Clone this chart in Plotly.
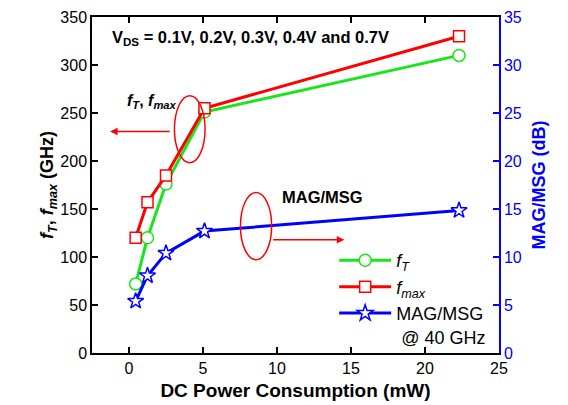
import plotly.graph_objects as go

# ---- data ----
power_mw = [0.45, 1.25, 2.5, 5.1, 22.3]
ft_ghz = [72, 120, 176, 251, 310]
fmax_ghz = [120, 157, 185, 255, 330]
mag_db = [5.4, 8.05, 10.4, 12.7, 14.85]

x_ticks = [0, 5, 10, 15, 20, 25]
y_ticks = [0, 50, 100, 150, 200, 250, 300, 350]
y2_ticks = [0, 5, 10, 15, 20, 25, 30, 35]

GREEN = "#19e619"
RED = "#ff0000"
BLUE = "#0000ff"
FONT = "Liberation Sans, Arial, sans-serif"

fig = go.Figure()
fig.add_trace(go.Scatter(
    x=power_mw, y=ft_ghz, mode="lines+markers",
    name="<i>f</i><sub><i>T</i></sub>",
    line=dict(color=GREEN, width=3),
    marker=dict(symbol="circle", size=12, color="white", line=dict(color=GREEN, width=1.5)),
))
fig.add_trace(go.Scatter(
    x=power_mw, y=fmax_ghz, mode="lines+markers",
    name="<i>f</i><sub><i>max</i></sub>",
    line=dict(color=RED, width=3),
    marker=dict(symbol="square", size=11, color="white", line=dict(color=RED, width=1.5)),
))
fig.add_trace(go.Scatter(
    x=power_mw, y=mag_db, mode="lines+markers", yaxis="y2",
    name="MAG/MSG<br>&nbsp;@ 40 GHz",
    line=dict(color=BLUE, width=3),
    marker=dict(symbol="star", size=12, color="white", line=dict(color=BLUE, width=1.5)),
))

axis_common = dict(showgrid=False, zeroline=False, ticks="inside", ticklen=6,
                   tickwidth=1.5, linewidth=1.5, showline=True, automargin=False)

fig.update_layout(
    width=568, height=405,
    margin=dict(l=92, r=69, t=17, b=52),
    paper_bgcolor="white", plot_bgcolor="white",
    font=dict(family=FONT, size=16, color="black"),
    xaxis=dict(range=[-2.5, 25], tickvals=x_ticks, linecolor="black", tickcolor="black",
               mirror="ticks",
               title=dict(text="<b>DC Power Consumption (mW)</b>", font=dict(size=19), standoff=8),
               **axis_common),
    yaxis=dict(range=[0, 350], tickvals=y_ticks, linecolor="black", tickcolor="black",
               title=dict(text="<b><i>f</i><sub><i>T</i></sub>, <i>f</i><sub><i>max</i></sub> (GHz)</b>",
                          font=dict(size=18), standoff=2),
               **axis_common),
    yaxis2=dict(range=[0, 35], tickvals=y2_ticks, overlaying="y", side="right",
                linecolor=BLUE, tickcolor=BLUE, tickfont=dict(color=BLUE),
                title=dict(text="<b>MAG/MSG (dB)</b>", font=dict(size=18, color=BLUE), standoff=12),
                **axis_common),
    showlegend=True,
    legend=dict(x=0.595, y=0.33, xanchor="left", yanchor="top",
                bgcolor="rgba(0,0,0,0)", font=dict(size=18),
                itemwidth=52, tracegroupgap=0, valign="top"),
)

# annotations (text, ellipses, arrows)
fig.add_annotation(x=-1.3, y=328.4, xref="x", yref="y", xanchor="left", showarrow=False,
                   text="<b>V<sub>DS</sub> = 0.1V, 0.2V, 0.3V, 0.4V and 0.7V</b>",
                   font=dict(size=16.5))
fig.add_annotation(x=-0.3, y=262, xref="x", yref="y", xanchor="left", showarrow=False,
                   text="<b><i>f</i><sub><i>T</i></sub>, <i>f</i><sub><i>max</i></sub></b>",
                   font=dict(size=16))
fig.add_annotation(x=13.06, y=162, xref="x", yref="y", showarrow=False,
                   text="<b>MAG/MSG</b>", font=dict(size=16.5))

fig.add_shape(type="circle", xref="x", yref="y", x0=3.07, x1=5.14, y0=198.2, y1=268,
              line=dict(color=RED, width=1.5))
fig.add_shape(type="circle", xref="x", yref="y", x0=7.53, x1=9.64, y0=97.2, y1=167.3,
              line=dict(color=RED, width=1.5))

fig.add_annotation(x=-1.28, y=230.8, ax=2.85, ay=230.8, xref="x", yref="y", axref="x", ayref="y",
                   text="", showarrow=True, arrowhead=2, arrowsize=1, arrowwidth=1.5, arrowcolor=RED)
fig.add_annotation(x=14.55, y=118, ax=9.64, ay=118, xref="x", yref="y", axref="x", ayref="y",
                   text="", showarrow=True, arrowhead=2, arrowsize=1, arrowwidth=1.5, arrowcolor=RED)

fig.write_html("out.html")
